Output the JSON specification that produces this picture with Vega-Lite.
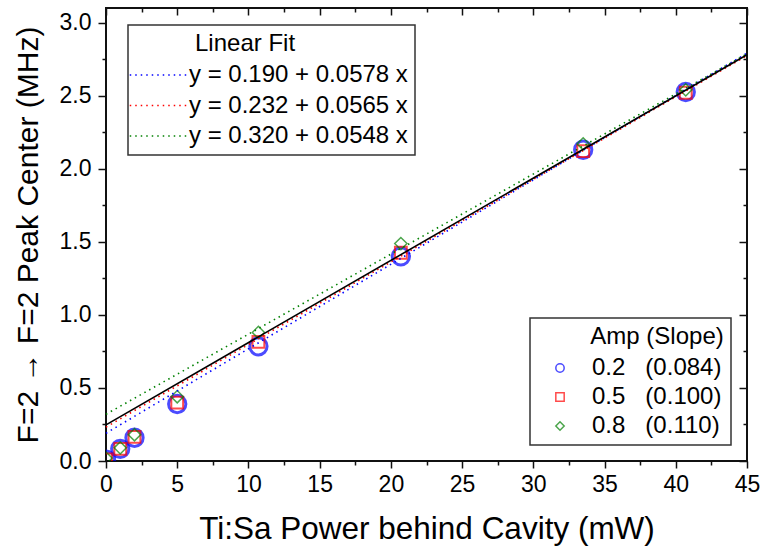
{
  "$schema": "https://vega.github.io/schema/vega-lite/v6.json",
  "autosize": "none",
  "width": 641,
  "height": 453,
  "padding": {"left": 106, "top": 8, "right": 15, "bottom": 86},
  "background": "white",
  "datasets": {
    "a02": [
      {"amp": "0.2\u00a0\u00a0\u00a0(0.084)", "x": 0, "y": 0.01},
      {"amp": "0.2\u00a0\u00a0\u00a0(0.084)", "x": 1, "y": 0.083},
      {"amp": "0.2\u00a0\u00a0\u00a0(0.084)", "x": 2, "y": 0.159},
      {"amp": "0.2\u00a0\u00a0\u00a0(0.084)", "x": 5, "y": 0.39},
      {"amp": "0.2\u00a0\u00a0\u00a0(0.084)", "x": 10.7, "y": 0.785},
      {"amp": "0.2\u00a0\u00a0\u00a0(0.084)", "x": 20.7, "y": 1.40},
      {"amp": "0.2\u00a0\u00a0\u00a0(0.084)", "x": 33.5, "y": 2.13},
      {"amp": "0.2\u00a0\u00a0\u00a0(0.084)", "x": 40.7, "y": 2.525}
    ],
    "a05": [
      {"amp": "0.5\u00a0\u00a0\u00a0(0.100)", "x": 0, "y": 0.01},
      {"amp": "0.5\u00a0\u00a0\u00a0(0.100)", "x": 1, "y": 0.083},
      {"amp": "0.5\u00a0\u00a0\u00a0(0.100)", "x": 2, "y": 0.165},
      {"amp": "0.5\u00a0\u00a0\u00a0(0.100)", "x": 5, "y": 0.40},
      {"amp": "0.5\u00a0\u00a0\u00a0(0.100)", "x": 10.7, "y": 0.815},
      {"amp": "0.5\u00a0\u00a0\u00a0(0.100)", "x": 20.7, "y": 1.425},
      {"amp": "0.5\u00a0\u00a0\u00a0(0.100)", "x": 33.5, "y": 2.12},
      {"amp": "0.5\u00a0\u00a0\u00a0(0.100)", "x": 40.7, "y": 2.52}
    ],
    "a08": [
      {"amp": "0.8\u00a0\u00a0\u00a0(0.110)", "x": 0, "y": 0.02},
      {"amp": "0.8\u00a0\u00a0\u00a0(0.110)", "x": 1, "y": 0.09},
      {"amp": "0.8\u00a0\u00a0\u00a0(0.110)", "x": 2, "y": 0.18},
      {"amp": "0.8\u00a0\u00a0\u00a0(0.110)", "x": 5, "y": 0.44},
      {"amp": "0.8\u00a0\u00a0\u00a0(0.110)", "x": 10.7, "y": 0.88},
      {"amp": "0.8\u00a0\u00a0\u00a0(0.110)", "x": 20.7, "y": 1.488},
      {"amp": "0.8\u00a0\u00a0\u00a0(0.110)", "x": 33.5, "y": 2.17},
      {"amp": "0.8\u00a0\u00a0\u00a0(0.110)", "x": 40.7, "y": 2.54}
    ],
    "fits": [
      {"fit": "y = 0.190 + 0.0578 x", "x": 0, "y": 0.190},
      {"fit": "y = 0.190 + 0.0578 x", "x": 45, "y": 2.791},
      {"fit": "y = 0.232 + 0.0565 x", "x": 0, "y": 0.232},
      {"fit": "y = 0.232 + 0.0565 x", "x": 45, "y": 2.7745},
      {"fit": "y = 0.320 + 0.0548 x", "x": 0, "y": 0.320},
      {"fit": "y = 0.320 + 0.0548 x", "x": 45, "y": 2.786}
    ],
    "all": [
      {"x": 0, "y": 0.247},
      {"x": 45, "y": 2.78}
    ]
  },
  "layer": [
    {
      "data": {"name": "a02"},
      "mark": {"type": "point", "filled": false, "clip": true, "size": 300, "strokeWidth": 3},
      "encoding": {
        "x": {
          "field": "x", "type": "quantitative",
          "scale": {"domain": [0, 45], "nice": false, "zero": false},
          "axis": {
            "orient": "bottom",
            "values": [0, 2.5, 5, 7.5, 10, 12.5, 15, 17.5, 20, 22.5, 25, 27.5, 30, 32.5, 35, 37.5, 40, 42.5, 45],
            "format": "d",
            "labelExpr": "datum.value % 5 === 0 ? datum.label : ''",
            "tickSize": {"condition": {"test": "datum.value % 5 === 0", "value": 7}, "value": 4},
            "labelPadding": 5,
            "labelFlush": false,
            "labelOverlap": false,
            "title": "Ti:Sa Power behind Cavity (mW)",
            "titleFontSize": 31.5,
            "titlePadding": 17
          }
        },
        "y": {
          "field": "y", "type": "quantitative",
          "scale": {"domain": [0, 3.1], "nice": false, "zero": false},
          "axis": {
            "orient": "left",
            "values": [0, 0.25, 0.5, 0.75, 1, 1.25, 1.5, 1.75, 2, 2.25, 2.5, 2.75, 3],
            "format": ".1f",
            "labelExpr": "datum.value % 0.5 === 0 ? datum.label : ''",
            "tickSize": {"condition": {"test": "datum.value % 0.5 === 0", "value": 8}, "value": 4},
            "labelPadding": 7,
            "labelFlush": false,
            "labelOverlap": false,
            "title": "F=2 \u2192 F=2 Peak Center (MHz)",
            "titlePadding": 16
          }
        },
        "color": {
          "field": "amp", "type": "nominal",
          "scale": {
            "domain": ["0.2\u00a0\u00a0\u00a0(0.084)", "0.5\u00a0\u00a0\u00a0(0.100)", "0.8\u00a0\u00a0\u00a0(0.110)"],
            "range": ["#0000ff", "#ff0000", "#008000"]
          },
          "legend": {
            "orient": "none", "legendX": 424, "legendY": 310,
            "title": "\u200b\u00a0\u00a0\u00a0\u00a0\u00a0\u00a0\u00a0\u00a0Amp (Slope)",
            "symbolSize": 70, "symbolStrokeWidth": 1.5, "symbolOffset": 11, "labelOffset": 20,
            "rowPadding": 5
          }
        },
        "shape": {
          "field": "amp", "type": "nominal",
          "scale": {
            "domain": ["0.2\u00a0\u00a0\u00a0(0.084)", "0.5\u00a0\u00a0\u00a0(0.100)", "0.8\u00a0\u00a0\u00a0(0.110)"],
            "range": ["circle", "square", "diamond"]
          },
          "legend": {
            "orient": "none", "legendX": 424, "legendY": 310,
            "title": "\u200b\u00a0\u00a0\u00a0\u00a0\u00a0\u00a0\u00a0\u00a0Amp (Slope)",
            "symbolSize": 70, "symbolStrokeWidth": 1.5, "symbolOffset": 11, "labelOffset": 20,
            "rowPadding": 5
          }
        }
      }
    },
    {
      "data": {"name": "a05"},
      "mark": {"type": "point", "filled": false, "clip": true, "size": 140, "strokeWidth": 2},
      "encoding": {
        "x": {"field": "x", "type": "quantitative", "axis": null},
        "y": {"field": "y", "type": "quantitative", "axis": null},
        "color": {"field": "amp", "type": "nominal"},
        "shape": {"field": "amp", "type": "nominal"}
      }
    },
    {
      "data": {"name": "a08"},
      "mark": {"type": "point", "filled": false, "clip": true, "size": 150, "strokeWidth": 1.5},
      "encoding": {
        "x": {"field": "x", "type": "quantitative", "axis": null},
        "y": {"field": "y", "type": "quantitative", "axis": null},
        "color": {"field": "amp", "type": "nominal"},
        "shape": {"field": "amp", "type": "nominal"}
      }
    },
    {
      "data": {"name": "fits"},
      "mark": {"type": "line", "strokeDash": [1.5, 4], "strokeWidth": 1.6},
      "encoding": {
        "x": {"field": "x", "type": "quantitative", "axis": null},
        "y": {"field": "y", "type": "quantitative", "axis": null},
        "stroke": {
          "field": "fit", "type": "nominal",
          "scale": {
            "domain": ["y = 0.190 + 0.0578 x", "y = 0.232 + 0.0565 x", "y = 0.320 + 0.0548 x"],
            "range": ["#0000ff", "#ff0000", "#008000"]
          },
          "legend": {
            "orient": "none", "legendX": 22, "legendY": 17,
            "title": "\u200b\u00a0\u00a0\u00a0\u00a0\u00a0\u00a0\u00a0\u00a0\u00a0Linear Fit",
            "symbolType": "M-5,0H5", "symbolSize": 137, "symbolOffset": 12,
            "symbolStrokeWidth": 1.6, "symbolDash": [1.5, 4], "labelOffset": 18
          }
        }
      }
    },
    {
      "data": {"name": "all"},
      "mark": {"type": "line", "color": "black", "strokeWidth": 1.6},
      "encoding": {
        "x": {
          "field": "x", "type": "quantitative",
          "axis": {
            "orient": "top",
            "values": [0, 2.5, 5, 7.5, 10, 12.5, 15, 17.5, 20, 22.5, 25, 27.5, 30, 32.5, 35, 37.5, 40, 42.5, 45],
            "labels": false, "title": null,
            "tickSize": {"condition": {"test": "datum.value % 5 === 0", "value": -7}, "value": -4}
          }
        },
        "y": {
          "field": "y", "type": "quantitative",
          "axis": {
            "orient": "right",
            "values": [0, 0.25, 0.5, 0.75, 1, 1.25, 1.5, 1.75, 2, 2.25, 2.5, 2.75, 3],
            "labels": false, "title": null,
            "tickSize": {"condition": {"test": "datum.value % 0.5 === 0", "value": -8}, "value": -4}
          }
        }
      }
    }
  ],
  "resolve": {
    "axis": {"x": "independent", "y": "independent"}
  },
  "config": {
    "font": "Liberation Sans",
    "view": {"stroke": "#111", "strokeWidth": 2},
    "axis": {
      "domain": false, "grid": false,
      "tickColor": "#111", "tickWidth": 1.5,
      "labelFont": "Liberation Sans", "labelFontSize": 23, "labelColor": "black",
      "titleFont": "Liberation Sans", "titleFontSize": 30, "titleFontWeight": "normal", "titleColor": "black"
    },
    "legend": {
      "labelFont": "Liberation Sans", "labelFontSize": 24, "labelColor": "black", "labelLimit": 400,
      "titleFont": "Liberation Sans", "titleFontSize": 24, "titleFontWeight": "normal", "titleColor": "black",
      "titleLimit": 400,
      "strokeColor": "#333", "strokeWidth": 1.5, "padding": 7, "rowPadding": 6.5, "titlePadding": 7
    }
  }
}
